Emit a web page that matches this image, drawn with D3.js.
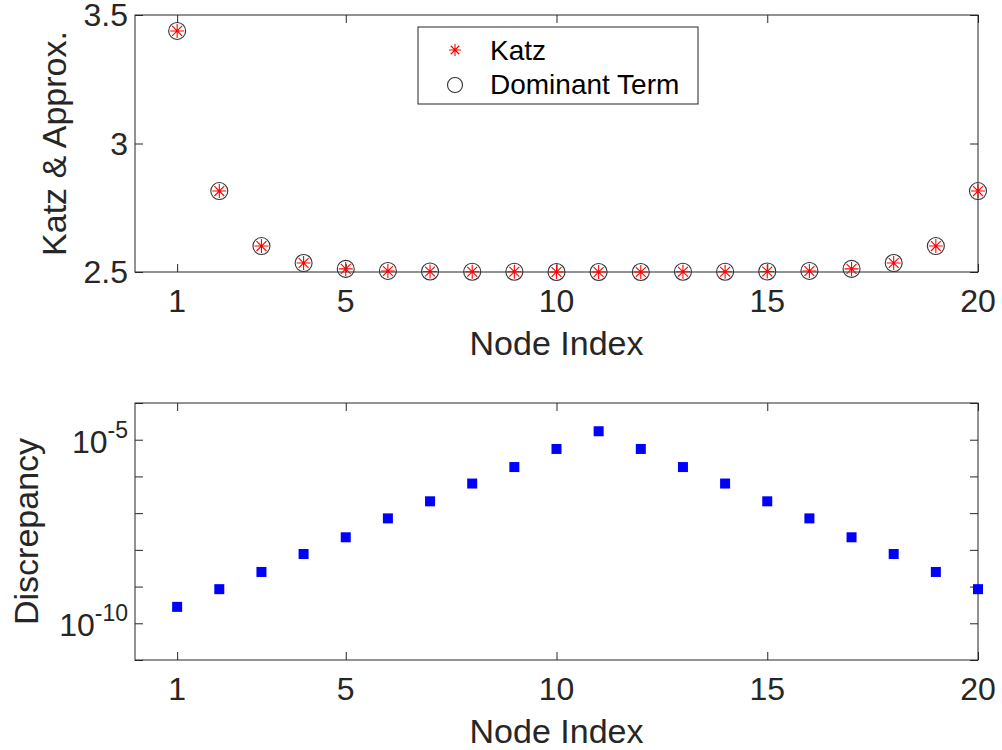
<!DOCTYPE html>
<html>
<head>
<meta charset="utf-8">
<script src="https://cdn.jsdelivr.net/npm/d3@7"></script>
<style>
  html, body { margin: 0; padding: 0; background: #fff; }
  svg { display: block; font-family: "Liberation Sans", Arial, Helvetica, sans-serif; }
</style>
</head>
<body>
<svg id="chart" width="1002" height="750"></svg>
<script>
// Node indices on the horizontal axis
const nodeIndex = [1, 2, 3, 4, 5, 6, 7, 8, 9, 10, 11, 12, 13, 14, 15, 16, 17, 18, 19, 20];

// Katz centrality and its dominant-term approximation per node
const katzValues = [3.438, 2.815, 2.601, 2.535, 2.512, 2.504, 2.502, 2.501, 2.501, 2.500,
                    2.500, 2.500, 2.501, 2.501, 2.502, 2.504, 2.512, 2.535, 2.601, 2.815];
const dominantValues = [3.438, 2.815, 2.601, 2.535, 2.512, 2.504, 2.502, 2.501, 2.501, 2.500,
                        2.500, 2.500, 2.501, 2.501, 2.502, 2.504, 2.512, 2.535, 2.601, 2.815];

// Absolute discrepancy between the two
const discrepancy = [2.8e-10, 8.5e-10, 2.5e-9, 7.7e-9, 2.2e-8, 7.2e-8, 2.1e-7, 6.4e-7, 1.8e-6, 5.6e-6,
                     1.7e-5, 5.6e-6, 1.8e-6, 6.4e-7, 2.1e-7, 7.2e-8, 2.2e-8, 7.7e-9, 2.5e-9, 8.5e-10];

// Axis ticks
const xTicks = [1, 5, 10, 15, 20];
const topYTicks = [2.5, 3, 3.5];
const topYLabels = ["2.5", "3", "3.5"];
const logYTicks = [1e-11, 1e-10, 1e-9, 1e-8, 1e-7, 1e-6, 1e-5, 1e-4];
const logYLabelled = [1e-10, 1e-5];
const logYExponents = ["-10", "-5"];

const legendLabels = ["Katz", "Dominant Term"];

const ink = "#262626";
const svg = d3.select("#chart");

const L = 135, R = 978;
const topPanel = { top: 15, bottom: 272 };
const botPanel = { top: 403, bottom: 660 };
const tickLen = 8;
const tickFont = 32, labelFont = 34, legendFont = 28;

const x = d3.scaleLinear().domain([0, 20]).range([L, R]);
const yTop = d3.scaleLinear().domain([2.5, 3.5]).range([topPanel.bottom, topPanel.top]);
const yBot = d3.scaleLog().domain([1e-11, 1e-4]).range([botPanel.bottom, botPanel.top]);

function drawFrame(g, panel, y, yTickVals) {
  // box
  g.append("rect")
    .attr("x", L).attr("y", panel.top)
    .attr("width", R - L).attr("height", panel.bottom - panel.top)
    .attr("fill", "none").attr("stroke", ink).attr("stroke-width", 1);

  // inward x ticks on bottom and top edges
  const xb = d3.axisBottom(x).tickValues(xTicks).tickSize(-tickLen).tickFormat("");
  const xt = d3.axisTop(x).tickValues(xTicks).tickSize(-tickLen).tickFormat("");
  [[xb, panel.bottom], [xt, panel.top]].forEach(([ax, ty]) => {
    const a = g.append("g").attr("transform", `translate(0,${ty})`).call(ax);
    a.select(".domain").remove();
    a.selectAll("line").attr("stroke", ink);
  });
  // inward y ticks on left and right edges
  const yl = d3.axisLeft(y).tickValues(yTickVals).tickSize(-tickLen).tickFormat("");
  const yr = d3.axisRight(y).tickValues(yTickVals).tickSize(-tickLen).tickFormat("");
  [[yl, L], [yr, R]].forEach(([ax, tx]) => {
    const a = g.append("g").attr("transform", `translate(${tx},0)`).call(ax);
    a.select(".domain").remove();
    a.selectAll("line").attr("stroke", ink);
  });

  // x tick labels
  g.append("g").selectAll("text").data(xTicks).join("text")
    .attr("x", d => x(d)).attr("y", panel.bottom + 40)
    .attr("text-anchor", "middle")
    .attr("font-size", tickFont).attr("fill", ink)
    .text(d => d);

  // x axis title
  g.append("text")
    .attr("x", (L + R) / 2).attr("y", panel.bottom + 83)
    .attr("text-anchor", "middle")
    .attr("font-size", labelFont).attr("fill", ink)
    .text("Node Index");
}

// ---------- Top panel: Katz vs dominant term ----------
const gTop = svg.append("g");
drawFrame(gTop, topPanel, yTop, topYTicks);

gTop.append("g").selectAll("text").data(topYTicks).join("text")
  .attr("x", L - 7).attr("y", d => yTop(d) + 11)
  .attr("text-anchor", "end")
  .attr("font-size", tickFont).attr("fill", ink)
  .text((d, i) => topYLabels[i]);

gTop.append("text")
  .attr("transform", `translate(66,${(topPanel.top + topPanel.bottom) / 2}) rotate(-90)`)
  .attr("text-anchor", "middle")
  .attr("font-size", labelFont).attr("fill", ink)
  .text("Katz & Approx.");

// asterisk marker path (plus overlaid with a cross)
function asteriskPath(r) {
  const d = r * Math.SQRT1_2;
  return `M${-r},0L${r},0M0,${-r}L0,${r}M${-d},${-d}L${d},${d}M${-d},${d}L${d},${-d}`;
}

gTop.append("g").selectAll("circle").data(nodeIndex).join("circle")
  .attr("cx", d => x(d)).attr("cy", (d, i) => yTop(dominantValues[i]))
  .attr("r", 8.5)
  .attr("fill", "none").attr("stroke", "#333").attr("stroke-width", 1.1);

gTop.append("g").selectAll("path").data(nodeIndex).join("path")
  .attr("transform", (d, i) => `translate(${x(d)},${yTop(katzValues[i])})`)
  .attr("d", asteriskPath(7))
  .attr("fill", "none").attr("stroke", "#ff0000").attr("stroke-width", 1.1);

// legend
const leg = gTop.append("g");
leg.append("rect")
  .attr("x", 418).attr("y", 27).attr("width", 280).attr("height", 77)
  .attr("fill", "#fff").attr("stroke", ink).attr("stroke-width", 1);
leg.append("path")
  .attr("transform", "translate(455,50)")
  .attr("d", asteriskPath(6))
  .attr("fill", "none").attr("stroke", "#ff0000").attr("stroke-width", 1.1);
leg.append("circle")
  .attr("cx", 455).attr("cy", 85).attr("r", 7.5)
  .attr("fill", "none").attr("stroke", "#333").attr("stroke-width", 1.1);
leg.selectAll("text.lab").data(legendLabels).join("text")
  .attr("class", "lab")
  .attr("x", 490).attr("y", (d, i) => 60 + i * 34)
  .attr("font-size", legendFont).attr("fill", "#000")
  .text(d => d);

// ---------- Bottom panel: discrepancy (log scale) ----------
const gBot = svg.append("g");
drawFrame(gBot, botPanel, yBot, logYTicks);

const powLab = gBot.append("g").selectAll("text").data(logYLabelled).join("text")
  .attr("x", L - 7).attr("y", d => yBot(d) + 13)
  .attr("text-anchor", "end")
  .attr("font-size", tickFont).attr("fill", ink);
powLab.append("tspan").text("10");
powLab.append("tspan")
  .attr("dy", -15).attr("font-size", 23)
  .text((d, i) => logYExponents[i]);

gBot.append("text")
  .attr("transform", `translate(38,${(botPanel.top + botPanel.bottom) / 2}) rotate(-90)`)
  .attr("text-anchor", "middle")
  .attr("font-size", labelFont).attr("fill", ink)
  .text("Discrepancy");

const sq = 10;
gBot.append("g").selectAll("rect").data(nodeIndex).join("rect")
  .attr("x", d => x(d) - sq / 2)
  .attr("y", (d, i) => yBot(discrepancy[i]) - sq / 2)
  .attr("width", sq).attr("height", sq)
  .attr("fill", "#0000ff");
</script>
</body>
</html>
